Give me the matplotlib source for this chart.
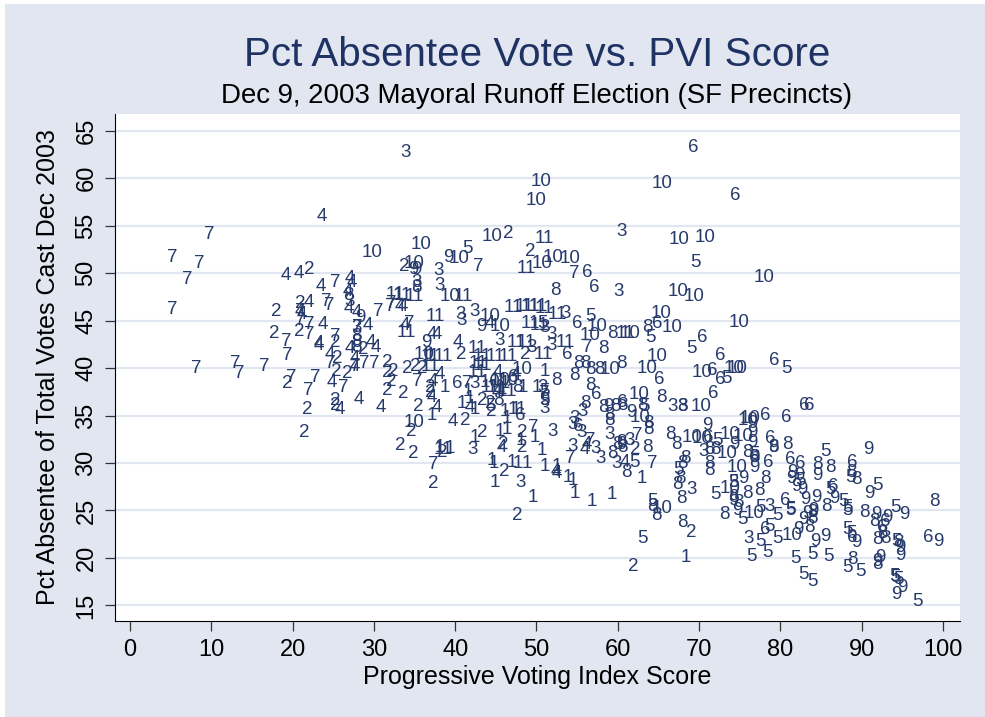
import matplotlib
matplotlib.use('Agg')
import matplotlib.pyplot as plt
from matplotlib.patches import Rectangle

plt.rcParams['font.family'] = ['Liberation Sans', 'DejaVu Sans']

# precinct cluster number -> (pvi score, pct absentee)
pvi_1 = [36.9, 38.1, 39.4, 42.4, 44.5, 44.7, 44.9, 47, 47.7, 48.8, 46.4, 45.5, 46.4, 46.1, 47.5, 51, 52.5, 53.9, 54.5, 49.6, 54.7, 56.8, 59.3, 68.4, 63, 50.6, 49.8, 48.1, 40.8, 42.4, 41.6, 41.8, 37.1, 38.7, 46.1, 45.8, 48.3, 50, 51]
pct_1 = [41.2, 31.6, 31.5, 32.7, 30.3, 30, 28, 30.1, 30, 30, 33.5, 33.3, 34.7, 35.4, 35.6, 29.6, 29.6, 28.5, 28.2, 26.4, 26.8, 25.9, 26.7, 20, 28.4, 31.3, 32.7, 32.4, 36.3, 35.6, 37.5, 36.8, 35, 37.9, 38.4, 37.7, 38, 38, 39.6]
pvi_2 = [18, 17.7, 20.8, 20.9, 22, 19.3, 21.8, 21.4, 25.3, 25.5, 25.4, 26.7, 25.3, 25.3, 28.7, 31.7, 32.1, 31.6, 31.6, 32.4, 34.1, 35.1, 35.9, 33.6, 35.5, 34.6, 33.2, 34.9, 37.3, 38.4, 36.9, 36.9, 41.2, 43.3, 46, 45.9, 47.7, 48.2, 48.3, 33.7, 46.5, 49.2, 61.9, 69.1, 62.1, 43.3, 44.3, 44.5, 48.6, 40.8]
pct_2 = [45.9, 43.6, 43.8, 46.8, 50.4, 38.4, 35.6, 33.2, 42.7, 41, 39.6, 39.4, 36.6, 36.1, 41.9, 37.6, 38.6, 39.5, 40.6, 39.6, 40, 40.2, 39.9, 37.3, 35.9, 33.3, 31.8, 31, 27.8, 31.1, 38, 37.4, 34.5, 33.2, 29.1, 31.9, 24.5, 33.2, 31.6, 50.7, 54.2, 52.3, 19.1, 22.7, 31.4, 36.6, 36.3, 35.4, 41.4, 41.4]
pvi_3 = [33.9, 38, 38.1, 35.2, 60.5, 60.1, 42.4, 40.7, 40.8, 45.4, 49.4, 51, 51.8, 51.8, 51, 52, 42.2, 48, 54.4, 54.7, 55.6, 55.7, 54.4, 57.3, 57.9, 59, 59.9, 61.5, 66.7, 68, 69.1, 74.2, 78.7, 70.5, 76.1, 27.9, 27, 42.4, 50.8, 53.6]
pct_3 = [62.7, 50.3, 48.7, 49, 54.4, 48.1, 45.9, 45.6, 45, 42.9, 42.2, 44.3, 43.5, 42.4, 35.7, 33.3, 31.4, 28, 31.7, 34.7, 33.2, 35.4, 34.1, 31.5, 30.5, 33, 30, 32.4, 36, 36, 27.2, 27.9, 25.4, 31.2, 22.1, 44.3, 47, 38.4, 38, 45.7]
pvi_4 = [23.6, 19.2, 20.8, 23.5, 27, 27.3, 26.8, 26.9, 22, 20.9, 21.2, 23.7, 23.2, 23.2, 27.9, 29.2, 24.6, 24.8, 25.8, 28.2, 30.9, 29.6, 30.3, 27.1, 27.7, 27.7, 33.2, 33.6, 33.8, 37.1, 37.8, 40.3, 37.3, 38.1, 37.1, 37.8, 39.7, 41.8, 45.8, 52.4, 52.5, 56, 56.2, 60.9, 45.3, 47.5, 45.1, 44.3]
pct_4 = [56, 49.7, 49.9, 48.6, 49.4, 49, 48.1, 46.3, 46.9, 45.9, 45.6, 44.6, 42.6, 42.4, 45.8, 44.5, 41.4, 38.5, 35.6, 36.7, 35.8, 42.7, 42.2, 42.1, 41, 40.2, 46.5, 46.5, 44.5, 43.5, 43.5, 42.7, 38.6, 39.3, 36.9, 35.8, 34.4, 35.8, 31.6, 29.1, 28.9, 31.4, 31.9, 30.1, 39.5, 39.3, 37.4, 44.7]
pvi_5 = [41.5, 69.5, 64, 69.1, 73.4, 80.7, 63.3, 62, 56.6, 50.8, 51, 44.4, 64.3, 63.1, 67.5, 72, 72.3, 76.8, 74.2, 75.4, 77.5, 79.6, 81.2, 78.7, 77.6, 79.7, 78.4, 76.4, 81.8, 85.6, 88.6, 82.5, 86.2, 91.9, 81.3, 87.8, 88.2, 88.2, 94.2, 88.2, 88.8, 83.9, 85.9, 88.3, 89.8, 82.9, 84, 94.3, 94, 94.1, 94.5, 96.9, 51]
pct_5 = [52.6, 51.1, 43.2, 42.1, 38.9, 40, 35.9, 30.1, 45.4, 44.7, 37.5, 35.9, 25.9, 22, 29.3, 26.7, 32.4, 30.9, 27.9, 24, 25.3, 24.5, 25.1, 23.3, 21.7, 22, 20.6, 20.2, 19.9, 31.2, 28.5, 28.2, 27.2, 27.6, 25, 25.9, 25.3, 25, 25.3, 23, 22.6, 20.4, 20.2, 19, 18.6, 18.3, 17.5, 21.7, 18, 17.9, 17.7, 15.4, 36.6]
pvi_6 = [69.3, 74.4, 56.2, 57.1, 55, 64.8, 70.4, 72.6, 71.6, 72.6, 65.1, 71.7, 79.2, 78.1, 80.7, 83, 83.5, 40.2, 48, 55.1, 57.4, 53.8, 60.6, 71.1, 78.7, 78.5, 80.6, 81.2, 82.4, 88.8, 86.5, 92.9, 88.9, 98.2, 78.1, 92.5, 76.8, 47.1]
pct_6 = [63.2, 58.2, 50.1, 48.5, 44.7, 44.7, 43.2, 41.3, 39.7, 38.8, 38.8, 37.3, 40.8, 35, 34.8, 36.1, 36.1, 38.4, 35, 33.8, 37.2, 41.4, 36.4, 32.7, 32.6, 30.1, 26.1, 30.4, 30, 30.1, 27.5, 23.8, 22.2, 22.2, 23, 23.2, 30.6, 39]
pvi_7 = [5.2, 5.2, 7, 8.5, 9.8, 8.2, 13, 13.4, 16.5, 19.3, 19.9, 22.8, 21.9, 25.3, 26.2, 24.6, 28.8, 30, 27.7, 24.2, 24.5, 25.3, 30.6, 32, 32.2, 22.1, 19.2, 22, 20.9, 20.9, 27.9, 34.3, 42.8, 54.7, 56.2, 41.5, 35.3, 37.3, 54.1, 56.6, 64.2, 62.4, 49.6, 51]
pct_7 = [46.2, 51.6, 49.3, 51, 54.1, 39.9, 40.5, 39.4, 40.2, 41.3, 39, 39, 37.6, 49, 38, 40.5, 40.5, 40.5, 40.2, 47, 46.6, 43.3, 45.9, 46.5, 46.8, 44.6, 42.8, 43.5, 45, 45.9, 44.3, 44.7, 50.7, 50, 42.2, 38.4, 38.6, 29.8, 30.5, 32.4, 30, 32.9, 33.7, 37.3]
pvi_8 = [26.9, 35.2, 27.9, 27.9, 27.9, 52.3, 59.3, 58.2, 52.5, 54.7, 56, 56.6, 57.8, 56.6, 58.2, 59.7, 60.6, 59, 59, 59.3, 59.9, 60.6, 61.1, 60.5, 63.7, 63.6, 63.8, 63.8, 60.5, 63, 65.4, 68, 64.3, 64.7, 68, 67.8, 67.3, 67.7, 67.9, 68.3, 66.5, 67.2, 71.3, 71.3, 71.3, 72, 76, 76.8, 78.2, 79.1, 75.9, 77.4, 74.2, 74.8, 73.1, 80.9, 84.5, 86.2, 88.8, 89.4, 85.7, 83.9, 83.9, 83.6, 90.3, 91.6, 98.9, 88.9, 91.9, 92.9, 92.6, 94.5, 91.9, 47.7, 45.3, 56, 55.1]
pct_8 = [47.6, 48.5, 43.3, 42.7, 42.2, 48.2, 43.6, 42.1, 38.7, 39.2, 40.5, 39.8, 39.8, 38.2, 35.8, 35.9, 36.1, 35, 34.5, 31, 31.9, 31.6, 29, 40.5, 44.3, 31.6, 34.2, 33.5, 32.2, 36.1, 36.9, 36, 25.4, 24.5, 23.7, 26.3, 27.7, 28.4, 30, 30.5, 33, 31.9, 31.4, 30, 29.2, 31.4, 31.1, 30.6, 28.4, 31.6, 26.8, 27.1, 26.4, 25.8, 24.6, 31.9, 29.8, 29.5, 29, 28.3, 25.4, 24.8, 24.2, 23.2, 24.8, 23.8, 25.9, 19.8, 21.9, 22.1, 22.6, 21.6, 19.3, 37.9, 36.6, 36.3, 40.5]
pvi_9 = [39.2, 35.2, 28.3, 36.5, 43.2, 51, 58.9, 61.7, 71, 74.3, 76.5, 76.5, 76.8, 75.4, 74.2, 74.7, 79.1, 81.5, 82.3, 82, 90.8, 84.6, 81.4, 82.7, 86.6, 90.9, 83.1, 84.4, 84, 83.3, 82.8, 82.2, 91.8, 93.2, 95.3, 99.4, 89.3, 85.5, 84.3, 94.8, 94.8, 92.3, 91.9, 95, 94.3, 76.6, 60.5, 34.8]
pct_9 = [51.6, 50.4, 45.3, 42.7, 44.4, 36.6, 36, 35.3, 34, 31.9, 33.2, 32.2, 29.5, 28.4, 26.1, 25, 31.6, 29, 28.7, 27.5, 31.4, 28.7, 28.4, 27.2, 26.3, 26.8, 26.2, 26.4, 25, 24.7, 24, 23, 24.6, 24.3, 24.6, 21.7, 21.6, 22.3, 21.7, 21.1, 20.3, 20, 19.6, 16.9, 16.2, 34.2, 31.9, 50.4]
pvi_10 = [50.6, 49.9, 29.8, 44.5, 35.8, 40.5, 34.9, 39.4, 50.7, 52, 54.1, 44.3, 45.5, 57.4, 56.6, 34.9, 44.3, 45.5, 46.5, 48.2, 59, 65.4, 67.5, 70.8, 78, 67.4, 69.4, 65.3, 66.7, 61.5, 74.9, 64.8, 63.6, 70.4, 74.3, 74.7, 62.6, 70.2, 62.7, 76.3, 69.2, 70.4, 73.8, 75.4, 73.4, 74.7, 73.8, 65.4, 76.8, 81.4, 76, 36.2]
pct_10 = [59.6, 57.6, 52.2, 53.8, 53, 51.5, 51, 47.5, 51, 51.6, 51.5, 45.4, 44.4, 44.4, 43.4, 34.3, 38.5, 38.7, 38.7, 39.8, 39.8, 59.4, 53.5, 53.7, 49.5, 48.1, 47.5, 45.7, 44.3, 43.6, 44.8, 41.2, 40, 39.5, 40, 40, 37.2, 36, 34.8, 34.7, 32.7, 32.6, 33, 32.8, 31, 29.5, 27.3, 25.2, 24.7, 22.4, 34.5, 41.4]
pvi_11 = [51, 48.7, 32.6, 33.5, 35, 37.5, 41, 47.2, 48.5, 49.3, 50.2, 51, 52.6, 49.2, 50.4, 37, 34, 47.5, 48.8, 42.7, 43.3, 44.9, 46.5, 36.9, 38.5, 42.8, 43.3, 42.7, 44.3, 45.1, 46.4, 38.6, 47.7, 53.5, 60.9, 50.8]
pct_11 = [53.6, 50.5, 47.7, 47.6, 47.5, 45.4, 47.5, 46.4, 46.5, 46.5, 46.5, 46.3, 45.6, 44.7, 44.5, 40.2, 43.7, 42.7, 42.7, 42.1, 41.2, 41.2, 41.2, 41.2, 41.2, 40.5, 40.3, 39.5, 38, 37.9, 37.5, 31.4, 35.6, 42.7, 43.6, 41.4]

xticks = list(range(0, 101, 10))
yticks = list(range(15, 66, 5))
groups = [(1, pvi_1, pct_1), (2, pvi_2, pct_2), (3, pvi_3, pct_3), (4, pvi_4, pct_4),
          (5, pvi_5, pct_5), (6, pvi_6, pct_6), (7, pvi_7, pct_7), (8, pvi_8, pct_8),
          (9, pvi_9, pct_9), (10, pvi_10, pct_10), (11, pvi_11, pct_11)]

bg = '#e2e6f1'
navy = '#263a6b'

fig = plt.figure(figsize=(9.85, 7.17), dpi=100, facecolor='white')
fig.add_artist(Rectangle((5/985, 0), 980/985, 713/717, transform=fig.transFigure,
                         facecolor=bg, edgecolor='none', zorder=-1))
ax = fig.add_axes([114.5/985, 1-620.5/717, 845.5/985, 506.5/717])
ax.set_xlim(-1.9, 102.1)
ax.set_ylim(13.42, 66.74)

for name, xs, ys in groups:
    for x, y in zip(xs, ys):
        ax.text(x, y, str(name), color=navy, fontsize=13.5, ha='center', va='center', zorder=3)

ax.set_xticks(xticks)
ax.set_yticks(yticks)
ax.grid(axis='y', color=bg, lw=1.6, zorder=0)
ax.set_axisbelow(True)
ax.spines['top'].set_visible(False)
ax.spines['right'].set_visible(False)
ax.tick_params(axis='x', length=7.2, width=0.9, labelsize=17, color='#333333', pad=6)
ax.tick_params(axis='y', length=7.2, width=0.9, labelsize=17, color='#333333', pad=5)
plt.setp(ax.get_yticklabels(), rotation=90, va='center')

ax.set_xlabel('Progressive Voting Index Score', fontsize=18, labelpad=3)
ax.set_ylabel('Pct Absentee of Total Votes Cast Dec 2003', fontsize=18, labelpad=11)

fig.text(537/985, 1-55/717, 'Pct Absentee Vote vs. PVI Score', color='#1f3264', fontsize=29.1,
         ha='center', va='center')
fig.text(537/985, 1-96/717, 'Dec 9, 2003 Mayoral Runoff Election (SF Precincts)', color='black',
         fontsize=19.9, ha='center', va='center')

fig.savefig('out.png', dpi=100, facecolor='white')
